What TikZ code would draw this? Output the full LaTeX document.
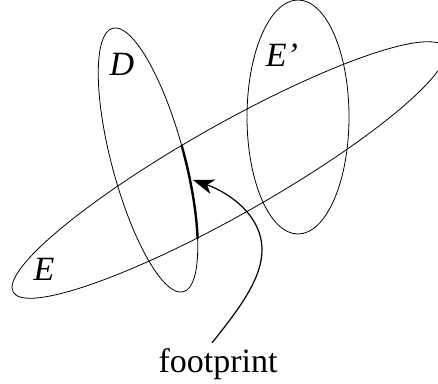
\documentclass[tikz,border=0pt]{standalone}
\usepackage{fontspec}
\setmainfont{Liberation Serif}
\usetikzlibrary{arrows.meta}
\tikzset{
  rim/.style     = {draw=black, line width=0.8pt},
  trace/.style   = {draw=black, line width=2.4pt},
  pointer/.style = {-{Stealth[length=21pt, width=15pt, inset=6pt]}, line width=1.2pt},
  setname/.style = {inner sep=0pt, font=\fontsize{34}{40}\selectfont\itshape},
  caption/.style = {inner sep=0pt, font=\fontsize{34}{40}\selectfont},
}
\begin{document}
\begin{tikzpicture}[x=1pt, y=1pt]
  \useasboundingbox (0,0) rectangle (438,383);
  \clip (0,0) rectangle (438,383);

  % the long set E
  \draw[rim, shift={(229,213)}, rotate=29.5] (0,0) ellipse (248 and 45);
  % the set E'
  \draw[rim] (298,266) ellipse (51 and 117);
  % the set D, with the footprint along its rim
  \begin{scope}[shift={(148,223)}, rotate=105]
    \draw[rim] (0,0) ellipse (136.4 and 36.3);
    \draw[trace] ({136.4*cos(-87.6)},{36.3*sin(-87.6)})
      arc[start angle=-87.6, end angle=-130.6, x radius=136.4, y radius=36.3];
  \end{scope}

  \node[setname] (labD)  at (122,319) {D};
  \node[setname] (labEp) at (282,328) {E’};
  \node[setname] (labE)  at (44,114)  {E};

  \node[caption, anchor=base] (fp) at (218,11) {footprint};
  \coordinate (tip) at (193,203);
  \draw[pointer] ([shift={(-6,5)}]fp.north) .. controls (240,75) and (262,105) .. (262,133)
                 .. controls (262,170) and (225,192) .. (tip);
\end{tikzpicture}
\end{document}
